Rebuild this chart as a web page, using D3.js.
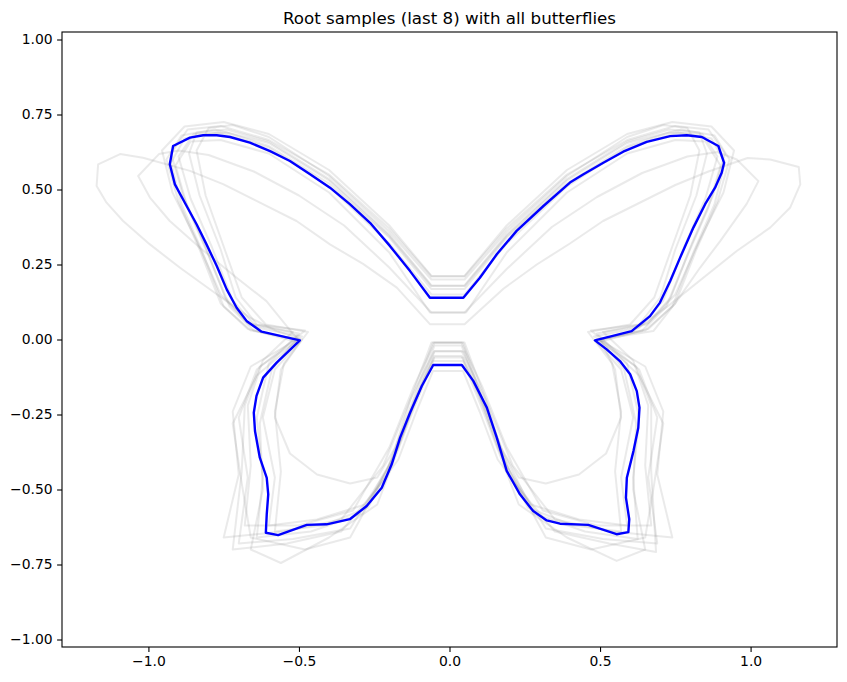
<!DOCTYPE html>
<html>
<head>
<meta charset="utf-8">
<script src="https://cdn.jsdelivr.net/npm/d3@7"></script>
<style>
  html, body { margin: 0; padding: 0; background: #fff; }
  svg { display: block; font-family: "DejaVu Sans", sans-serif; }
</style>
</head>
<body>
<svg id="chart" width="847" height="682"></svg>
<script>
// ---------- data ----------
const chartTitle = "Root samples (last 8) with all butterflies";
const xTicks = [-1.0, -0.5, 0.0, 0.5, 1.0];
const yTicks = [-1.0, -0.75, -0.5, -0.25, 0.0, 0.25, 0.5, 0.75, 1.0];
const xDomain = [-1.287, 1.287];
const yDomain = [-1.025, 1.025];

// highlighted (blue) butterfly outline
const rootButterfly = [
  [-0.065,0.139],[-0.131,0.228],[-0.198,0.312],[-0.264,0.389],[-0.331,0.451],[-0.397,0.506],[-0.463,0.551],[-0.530,0.595],[-0.596,0.628],[-0.663,0.656],[-0.729,0.675],[-0.773,0.681],[-0.818,0.681],[-0.862,0.673],[-0.918,0.645],[-0.929,0.584],[-0.912,0.517],[-0.879,0.456],[-0.840,0.384],[-0.807,0.317],[-0.773,0.245],[-0.740,0.167],[-0.707,0.106],[-0.674,0.062],[-0.624,0.026],[-0.497,-0.003],
  [-0.574,-0.077],[-0.619,-0.127],[-0.641,-0.188],[-0.650,-0.244],[-0.646,-0.305],[-0.630,-0.394],[-0.607,-0.461],[-0.602,-0.516],[-0.607,-0.583],[-0.610,-0.644],[-0.569,-0.652],[-0.474,-0.618],[-0.408,-0.616],[-0.331,-0.599],[-0.275,-0.555],[-0.225,-0.494],[-0.192,-0.416],[-0.164,-0.327],[-0.131,-0.244],[-0.092,-0.155],[-0.054,-0.085],
  [0.041,-0.085],[0.079,-0.138],[0.124,-0.227],[0.157,-0.327],[0.190,-0.438],[0.234,-0.516],[0.278,-0.572],[0.323,-0.603],[0.367,-0.614],[0.461,-0.618],[0.555,-0.649],[0.594,-0.642],[0.597,-0.599],[0.586,-0.527],[0.589,-0.461],[0.611,-0.372],[0.627,-0.294],[0.631,-0.227],[0.622,-0.172],[0.600,-0.116],[0.566,-0.072],[0.522,-0.033],[0.483,-0.003],
  [0.605,0.028],[0.666,0.078],[0.699,0.123],[0.733,0.195],[0.766,0.273],[0.810,0.373],[0.849,0.451],[0.882,0.506],[0.904,0.556],[0.912,0.589],[0.893,0.645],[0.838,0.675],[0.788,0.681],[0.733,0.678],[0.655,0.659],[0.577,0.626],[0.511,0.589],[0.445,0.551],[0.400,0.523],[0.312,0.445],[0.223,0.362],[0.157,0.284],[0.101,0.206],[0.046,0.139]
];

// all other butterflies (grey)
const grey01 = [[-0.06,0.21],[-0.20,0.37],[-0.40,0.55],[-0.60,0.665],[-0.76,0.712],[-0.87,0.70],[-0.925,0.62],[-0.885,0.48],[-0.815,0.32],[-0.745,0.14],[-0.665,0.05],[-0.50,0.02],[-0.60,-0.08],[-0.64,-0.26],[-0.62,-0.46],[-0.64,-0.66],[-0.46,-0.64],[-0.29,-0.58],[-0.18,-0.38],[-0.11,-0.20],[-0.05,-0.04],
  [0.05,-0.04],[0.11,-0.20],[0.18,-0.38],[0.28,-0.58],[0.45,-0.64],[0.625,-0.665],[0.61,-0.46],[0.63,-0.26],[0.59,-0.08],[0.49,0.02],[0.655,0.05],[0.735,0.14],[0.805,0.32],[0.875,0.48],[0.915,0.62],[0.86,0.70],[0.75,0.712],[0.59,0.665],[0.39,0.55],[0.19,0.37],[0.05,0.21]];
const grey02 = [[-0.06,0.18],[-0.20,0.35],[-0.40,0.535],[-0.60,0.66],[-0.74,0.70],[-0.84,0.69],[-0.865,0.62],[-0.83,0.48],[-0.76,0.30],[-0.71,0.14],[-0.64,0.05],[-0.48,0.03],[-0.64,-0.10],[-0.70,-0.26],[-0.67,-0.46],[-0.70,-0.68],[-0.52,-0.665],[-0.33,-0.63],[-0.20,-0.42],[-0.12,-0.21],[-0.05,-0.055],
  [0.04,-0.055],[0.11,-0.21],[0.19,-0.42],[0.32,-0.63],[0.51,-0.665],[0.69,-0.68],[0.66,-0.46],[0.69,-0.26],[0.63,-0.10],[0.47,0.03],[0.63,0.05],[0.70,0.14],[0.75,0.30],[0.82,0.48],[0.855,0.62],[0.83,0.69],[0.73,0.70],[0.59,0.66],[0.39,0.535],[0.19,0.35],[0.05,0.18]];
const grey03 = [[-0.065,0.09],[-0.20,0.29],[-0.40,0.49],[-0.60,0.62],[-0.76,0.665],[-0.86,0.66],[-0.91,0.58],[-0.87,0.44],[-0.80,0.28],[-0.73,0.11],[-0.65,0.03],[-0.50,-0.01],[-0.58,-0.10],[-0.62,-0.26],[-0.58,-0.46],[-0.60,-0.62],[-0.44,-0.60],[-0.28,-0.55],[-0.17,-0.40],[-0.11,-0.24],[-0.055,-0.105],
  [0.045,-0.105],[0.10,-0.24],[0.16,-0.40],[0.27,-0.55],[0.43,-0.60],[0.59,-0.62],[0.57,-0.46],[0.61,-0.26],[0.57,-0.10],[0.49,-0.01],[0.64,0.03],[0.72,0.11],[0.79,0.28],[0.86,0.44],[0.90,0.58],[0.85,0.66],[0.75,0.665],[0.59,0.62],[0.39,0.49],[0.19,0.29],[0.055,0.09]];
const grey04 = [[-0.06,0.168],[-0.20,0.34],[-0.40,0.52],[-0.60,0.645],[-0.74,0.69],[-0.85,0.685],[-0.90,0.61],[-0.86,0.47],[-0.79,0.31],[-0.72,0.13],[-0.64,0.04],[-0.49,0.01],[-0.66,-0.09],[-0.72,-0.24],[-0.70,-0.45],[-0.75,-0.66],[-0.55,-0.64],[-0.36,-0.60],[-0.22,-0.42],[-0.13,-0.20],[-0.05,-0.038],
  [0.04,-0.038],[0.12,-0.20],[0.21,-0.42],[0.35,-0.60],[0.54,-0.64],[0.74,-0.66],[0.69,-0.45],[0.71,-0.24],[0.65,-0.09],[0.48,0.01],[0.63,0.04],[0.71,0.13],[0.78,0.31],[0.85,0.47],[0.89,0.61],[0.84,0.685],[0.73,0.69],[0.59,0.645],[0.39,0.52],[0.19,0.34],[0.05,0.168]];
const grey05 = [[-0.06,0.212],[-0.20,0.38],[-0.40,0.565],[-0.60,0.685],[-0.75,0.725],[-0.88,0.71],[-0.955,0.63],[-0.92,0.49],[-0.84,0.33],[-0.76,0.15],[-0.67,0.055],[-0.52,0.025],[-0.62,-0.07],[-0.67,-0.22],[-0.66,-0.42],[-0.68,-0.62],[-0.50,-0.62],[-0.32,-0.57],[-0.20,-0.36],[-0.12,-0.16],[-0.05,-0.011],
  [0.04,-0.011],[0.11,-0.16],[0.19,-0.36],[0.31,-0.57],[0.49,-0.62],[0.67,-0.62],[0.65,-0.42],[0.66,-0.22],[0.61,-0.07],[0.51,0.025],[0.66,0.055],[0.75,0.15],[0.83,0.33],[0.91,0.49],[0.945,0.63],[0.87,0.71],[0.74,0.725],[0.59,0.685],[0.39,0.565],[0.19,0.38],[0.05,0.212]];
const grey06 = [[-0.06,0.178],[-0.20,0.345],[-0.40,0.53],[-0.60,0.655],[-0.78,0.70],[-0.89,0.68],[-0.94,0.60],[-0.90,0.46],[-0.83,0.30],[-0.76,0.12],[-0.67,0.035],[-0.51,0.0],[-0.59,-0.10],[-0.63,-0.28],[-0.62,-0.50],[-0.66,-0.70],[-0.56,-0.745],[-0.40,-0.66],[-0.24,-0.55],[-0.13,-0.26],[-0.055,-0.072],
  [0.045,-0.072],[0.12,-0.26],[0.23,-0.55],[0.39,-0.66],[0.555,-0.738],[0.65,-0.70],[0.61,-0.50],[0.62,-0.28],[0.58,-0.10],[0.50,0.0],[0.66,0.035],[0.75,0.12],[0.82,0.30],[0.89,0.46],[0.93,0.60],[0.88,0.68],[0.77,0.70],[0.59,0.655],[0.39,0.53],[0.19,0.345],[0.05,0.178]];
const grey07 = [[-0.06,0.15],[-0.20,0.32],[-0.40,0.51],[-0.60,0.64],[-0.77,0.69],[-0.88,0.67],[-0.925,0.59],[-0.89,0.45],[-0.82,0.29],[-0.75,0.11],[-0.66,0.03],[-0.50,0.0],[-0.63,-0.09],[-0.68,-0.22],[-0.69,-0.44],[-0.72,-0.70],[-0.54,-0.68],[-0.36,-0.64],[-0.21,-0.46],[-0.12,-0.22],[-0.05,-0.06],
  [0.045,-0.06],[0.11,-0.22],[0.20,-0.46],[0.35,-0.64],[0.53,-0.68],[0.686,-0.708],[0.67,-0.44],[0.67,-0.22],[0.62,-0.09],[0.49,0.0],[0.65,0.03],[0.74,0.11],[0.81,0.29],[0.88,0.45],[0.915,0.59],[0.87,0.67],[0.76,0.69],[0.59,0.64],[0.39,0.51],[0.19,0.32],[0.05,0.15]];
const grey08 = [[-0.06,0.20],[-0.20,0.36],[-0.40,0.545],[-0.60,0.675],[-0.72,0.715],[-0.80,0.705],[-0.84,0.63],[-0.81,0.48],[-0.75,0.31],[-0.69,0.14],[-0.61,0.05],[-0.47,0.025],[-0.55,-0.08],[-0.58,-0.24],[-0.56,-0.44],[-0.58,-0.64],[-0.42,-0.62],[-0.27,-0.56],[-0.17,-0.36],[-0.10,-0.16],[-0.05,-0.02],
  [0.04,-0.02],[0.09,-0.16],[0.16,-0.36],[0.26,-0.56],[0.41,-0.62],[0.57,-0.64],[0.55,-0.44],[0.57,-0.24],[0.54,-0.08],[0.46,0.025],[0.60,0.05],[0.68,0.14],[0.74,0.31],[0.80,0.48],[0.83,0.63],[0.79,0.705],[0.71,0.715],[0.59,0.675],[0.39,0.545],[0.19,0.36],[0.05,0.20]];
const grey09 = [[-0.065,0.051],[-0.175,0.173],[-0.287,0.252],[-0.397,0.317],[-0.508,0.395],[-0.641,0.462],[-0.752,0.518],[-0.862,0.562],[-1.018,0.606],[-1.094,0.618],[-1.167,0.584],[-1.172,0.512],[-1.139,0.456],[-1.084,0.395],[-0.995,0.317],[-0.895,0.239],[-0.773,0.151],[-0.663,0.073],[-0.574,0.028],[-0.49,0.0],[-0.56,-0.10],[-0.58,-0.26],[-0.53,-0.38],[-0.44,-0.45],[-0.33,-0.48],[-0.24,-0.46],[-0.18,-0.36],[-0.13,-0.20],[-0.06,-0.01],
  [0.05,-0.01],[0.12,-0.20],[0.17,-0.36],[0.23,-0.46],[0.32,-0.48],[0.43,-0.45],[0.52,-0.38],[0.57,-0.26],[0.55,-0.10],[0.50,0.0],[0.611,0.028],[0.733,0.117],[0.843,0.206],[0.954,0.295],[1.065,0.373],[1.131,0.439],[1.165,0.517],[1.16,0.575],[1.065,0.60],[0.99,0.605],[0.86,0.56],[0.75,0.515],[0.64,0.46],[0.51,0.395],[0.40,0.32],[0.29,0.25],[0.18,0.17],[0.05,0.051]];
const grey10 = [[-0.06,0.09],[-0.20,0.24],[-0.35,0.38],[-0.50,0.48],[-0.65,0.56],[-0.80,0.615],[-0.90,0.63],[-0.965,0.618],[-1.034,0.545],[-0.995,0.473],[-0.929,0.395],[-0.829,0.306],[-0.707,0.206],[-0.608,0.128],[-0.519,0.018],[-0.50,0.0],[-0.64,-0.12],[-0.72,-0.28],[-0.69,-0.48],[-0.66,-0.66],[-0.48,-0.70],[-0.33,-0.66],[-0.21,-0.44],[-0.12,-0.20],[-0.055,-0.01],
  [0.045,-0.01],[0.11,-0.20],[0.20,-0.44],[0.32,-0.66],[0.47,-0.70],[0.65,-0.66],[0.68,-0.48],[0.71,-0.28],[0.63,-0.12],[0.50,0.0],[0.677,0.028],[0.755,0.128],[0.832,0.239],[0.899,0.328],[0.987,0.452],[1.026,0.528],[0.954,0.60],[0.89,0.625],[0.79,0.61],[0.64,0.555],[0.49,0.475],[0.34,0.375],[0.19,0.235],[0.05,0.09]];
const greyButterflies = [grey01, grey02, grey03, grey04, grey05, grey06, grey07, grey08, grey09, grey10];

// ---------- layout ----------
const svg = d3.select("#chart");
const margin = { left: 62, right: 10, top: 32, bottom: 35 };
const W = 847, H = 682;
const x = d3.scaleLinear().domain(xDomain).range([margin.left, W - margin.right]);
const y = d3.scaleLinear().domain(yDomain).range([H - margin.bottom, margin.top]);

const line = d3.line().x(d => x(d[0])).y(d => y(d[1])).curve(d3.curveLinearClosed);

svg.append("defs").append("clipPath").attr("id", "clip")
  .append("rect").attr("x", x.range()[0]).attr("y", y.range()[1])
  .attr("width", x.range()[1] - x.range()[0]).attr("height", y.range()[0] - y.range()[1]);

const plot = svg.append("g").attr("clip-path", "url(#clip)");

plot.selectAll("path.grey").data(greyButterflies).join("path")
  .attr("class", "grey")
  .attr("d", line)
  .attr("fill", "none")
  .attr("stroke", "#808080")
  .attr("stroke-opacity", 0.17)
  .attr("stroke-width", 2)
  .attr("stroke-linejoin", "round");

plot.append("path").datum(rootButterfly)
  .attr("d", line)
  .attr("fill", "none")
  .attr("stroke", "#0000ff")
  .attr("stroke-width", 2.4)
  .attr("stroke-linejoin", "round");

// axes
const fmtX = v => d3.format(".1f")(v).replace("-", "\u2212");
const fmtY = v => d3.format(".2f")(v).replace("-", "\u2212");

const xAxis = svg.append("g")
  .attr("transform", `translate(0,${y.range()[0]})`)
  .call(d3.axisBottom(x).tickValues(xTicks).tickFormat(fmtX).tickSize(4.9).tickPadding(4.5));
const yAxis = svg.append("g")
  .attr("transform", `translate(${x.range()[0]},0)`)
  .call(d3.axisLeft(y).tickValues(yTicks).tickFormat(fmtY).tickSize(4.9).tickPadding(4.5));

[xAxis, yAxis].forEach(g => {
  g.select(".domain").remove();
  g.selectAll("line").attr("stroke", "#000").attr("stroke-width", 1.1);
  g.selectAll("text").attr("fill", "#000").attr("font-size", "13.9px")
    .attr("font-family", "DejaVu Sans, sans-serif");
});

// frame
svg.append("rect")
  .attr("x", x.range()[0]).attr("y", y.range()[1])
  .attr("width", x.range()[1] - x.range()[0]).attr("height", y.range()[0] - y.range()[1])
  .attr("fill", "none").attr("stroke", "#000").attr("stroke-width", 1.1);

// title
svg.append("text")
  .attr("x", (x.range()[0] + x.range()[1]) / 2)
  .attr("y", 23.5)
  .attr("text-anchor", "middle")
  .attr("font-size", "16.7px")
  .attr("fill", "#000")
  .text(chartTitle);
</script>
</body>
</html>
